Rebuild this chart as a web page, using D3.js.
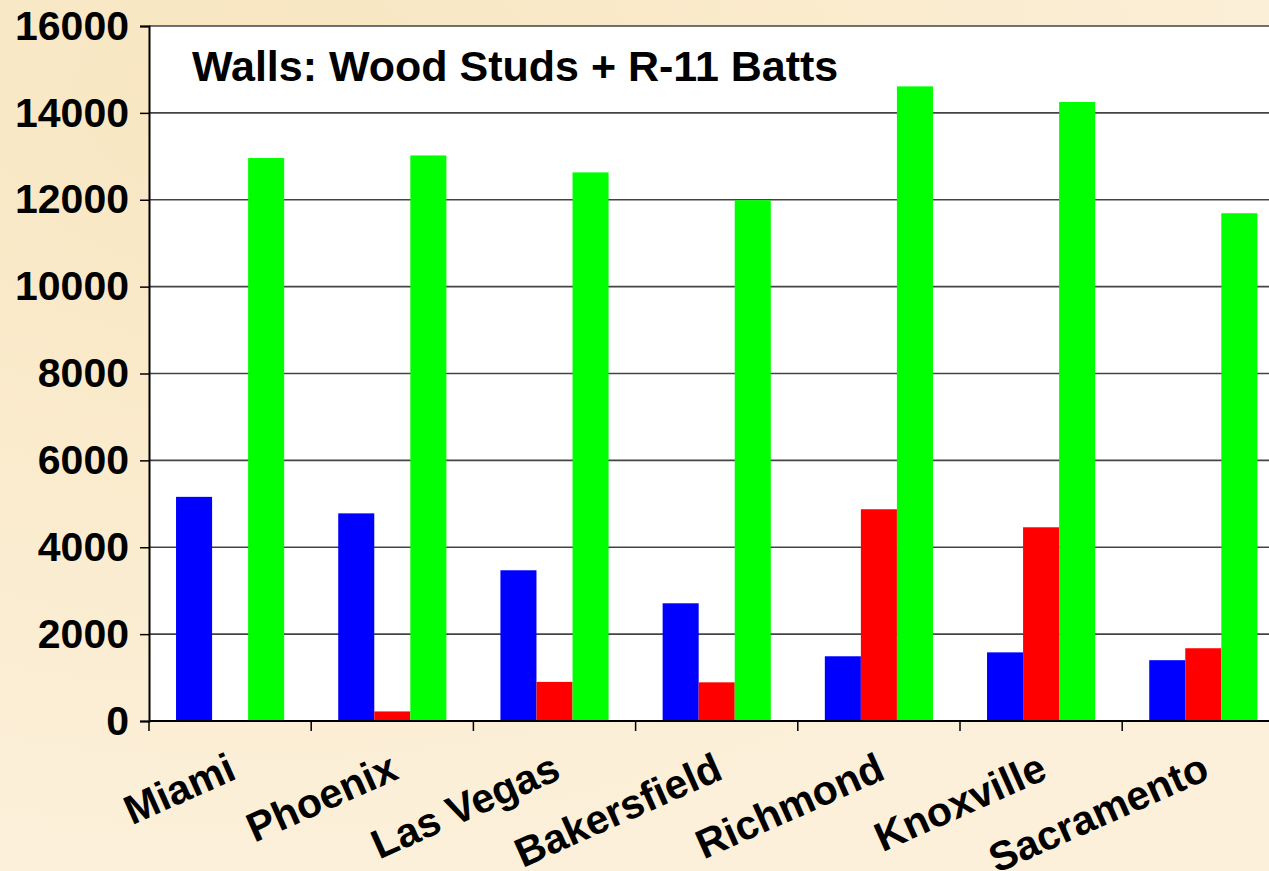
<!DOCTYPE html>
<html>
<head>
<meta charset="utf-8">
<script src="https://cdn.jsdelivr.net/npm/d3@7"></script>
<style>
  html, body { margin: 0; padding: 0; background: #fbedd4; overflow: hidden; }
  svg { display: block; font-family: Arial, "Liberation Sans", sans-serif; }
</style>
</head>
<body>
<div id="chart"></div>
<script>
const cities = ['Miami', 'Phoenix', 'Las Vegas', 'Bakersfield', 'Richmond', 'Knoxville', 'Sacramento']
const seriesNames = ['Series 1', 'Series 2', 'Series 3']
const series1 = [5160, 4780, 3470, 2710, 1490, 1580, 1400]
const series2 = [0, 220, 900, 890, 4875, 4460, 1675]
const series3 = [12960, 13020, 12630, 11990, 14610, 14250, 11690]
const seriesColors = ['#0000ff', '#ff0000', '#00ff00']
const yTicks = [0, 2000, 4000, 6000, 8000, 10000, 12000, 14000, 16000]
const title = 'Walls: Wood Studs + R-11 Batts'

const width = 1269, height = 871
const margin = {top: 26, left: 149, bottom: 150}
const plotRight = 149 + 7 * 162.2

const data = cities.map((c, i) => ({city: c, values: [series1[i], series2[i], series3[i]]}))

const svg = d3.select('#chart').append('svg')
  .attr('width', width)
  .attr('height', height)

// parchment background
const defs = svg.append('defs')
const grad = defs.append('radialGradient').attr('id', 'bg').attr('cx', '20%').attr('cy', '10%').attr('r', '90%')
grad.append('stop').attr('offset', '0%').attr('stop-color', '#f8e6c0')
grad.append('stop').attr('offset', '100%').attr('stop-color', '#fcf0da')
svg.append('rect').attr('width', width).attr('height', height).attr('fill', 'url(#bg)')

const x0 = d3.scaleBand()
  .domain(cities)
  .range([margin.left, plotRight])
  .padding(0)
const x1 = d3.scaleBand()
  .domain(d3.range(3))
  .range([0, x0.bandwidth()])
  .paddingInner(0)
  .paddingOuter(0.75)
const y = d3.scaleLinear()
  .domain([0, 16000])
  .range([721, margin.top])

// plot area
svg.append('rect')
  .attr('x', margin.left).attr('y', y(16000))
  .attr('width', plotRight - margin.left).attr('height', y(0) - y(16000))
  .attr('fill', '#ffffff')

// gridlines
svg.append('g')
  .selectAll('line')
  .data(yTicks.filter(d => d > 0))
  .enter().append('line')
  .attr('x1', margin.left).attr('x2', plotRight)
  .attr('y1', d => y(d)).attr('y2', d => y(d))
  .attr('stroke', '#444')
  .attr('stroke-width', 1.6)

// title
svg.append('text')
  .attr('x', 192).attr('y', 81)
  .style('font-size', '43px')
  .style('font-weight', 'bold')
  .attr('fill', '#000')
  .text(title)

// bars
const groups = svg.append('g')
  .selectAll('g')
  .data(data)
  .enter().append('g')
  .attr('transform', d => `translate(${x0(d.city)},0)`)
groups.selectAll('rect')
  .data(d => d.values.map((v, i) => ({i, v})))
  .enter().append('rect')
  .attr('x', d => x1(d.i))
  .attr('width', x1.bandwidth())
  .attr('y', d => y(d.v))
  .attr('height', d => y(0) - y(d.v))
  .attr('fill', d => seriesColors[d.i])

// y axis
const yAxis = svg.append('g')
  .attr('transform', `translate(${margin.left},0)`)
  .call(d3.axisLeft(y).tickValues(yTicks).tickSize(9).tickPadding(11).tickFormat(d3.format('d')))
yAxis.select('.domain').attr('stroke', '#000').attr('stroke-width', 2)
yAxis.selectAll('.tick line').attr('stroke', '#000').attr('stroke-width', 1.5)
yAxis.selectAll('.tick text')
  .style('font-size', '41px')
  .style('font-weight', 'bold')
  .style('font-family', 'Arial, "Liberation Sans", sans-serif')
  .attr('fill', '#000')

// x axis
const xAxis = svg.append('g')
  .attr('transform', `translate(0,${y(0)})`)
xAxis.append('line')
  .attr('x1', margin.left).attr('x2', plotRight)
  .attr('y1', 0).attr('y2', 0)
  .attr('stroke', '#000').attr('stroke-width', 2)
xAxis.selectAll('.tick')
  .data(cities)
  .enter().append('line')
  .attr('x1', d => x0(d)).attr('x2', d => x0(d))
  .attr('y1', 0).attr('y2', 10)
  .attr('stroke', '#000').attr('stroke-width', 1.5)
xAxis.selectAll('.xlabel')
  .data(cities)
  .enter().append('text')
  .attr('class', 'xlabel')
  .attr('transform', d => `translate(${x0(d) + x0.bandwidth() / 2 + 8},57) rotate(-24)`)
  .style('text-anchor', 'end')
  .style('font-size', '41px')
  .style('font-weight', 'bold')
  .attr('fill', '#000')
  .text(d => d)
</script>
</body>
</html>
